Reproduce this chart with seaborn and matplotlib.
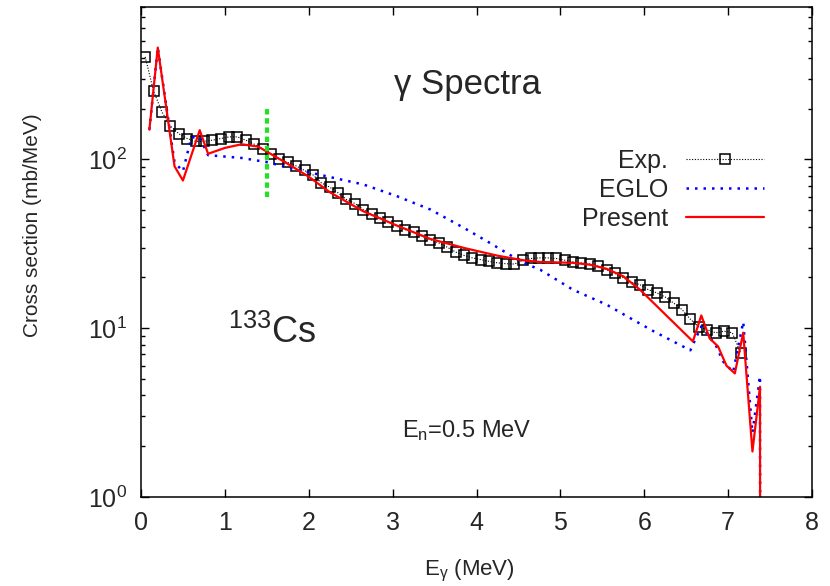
import seaborn as sns
import matplotlib.pyplot as plt
from matplotlib.ticker import LogLocator, NullLocator, NullFormatter

# measured spectrum (0.1 MeV bins)
exp_e = [0.05, 0.15, 0.25, 0.35, 0.45, 0.55, 0.65, 0.75, 0.85, 0.95,
         1.05, 1.15, 1.25, 1.35, 1.45, 1.55, 1.65, 1.75, 1.85, 1.95,
         2.05, 2.15, 2.25, 2.35, 2.45, 2.55, 2.65, 2.75, 2.85, 2.95,
         3.05, 3.15, 3.25, 3.35, 3.45, 3.55, 3.65, 3.75, 3.85, 3.95,
         4.05, 4.15, 4.25, 4.35, 4.45, 4.55, 4.65, 4.75, 4.85, 4.95,
         5.05, 5.15, 5.25, 5.35, 5.45, 5.55, 5.65, 5.75, 5.85, 5.95,
         6.05, 6.15, 6.25, 6.35, 6.45, 6.55, 6.65, 6.75, 6.85, 6.95,
         7.05, 7.15]
exp_y = [405, 254, 191, 158, 142, 133, 128, 128, 130, 133,
         136, 136, 130, 123, 115, 108, 101, 96, 91.5, 86,
         81, 72.7, 68.5, 63.4, 57.9, 54.8, 50.5, 47.2, 45.1, 42.5,
         40.2, 38.4, 37.0, 35.1, 33.5, 32.0, 30.2, 28.3, 27.0, 26.1,
         25.5, 24.9, 24.4, 24.1, 24.0, 25.2, 25.9, 26.1, 26.1, 25.9,
         25.3, 24.7, 24.4, 24.0, 23.3, 22.2, 21.1, 19.9, 18.7, 18.1,
         16.9, 16.2, 15.3, 14.1, 12.9, 11.3, 10.2, 9.8, 9.4, 9.6,
         9.4, 7.1]

# EGLO strength function
eglo_e = [0.1, 0.2, 0.4, 0.5, 0.6, 0.7, 0.8, 1.2, 1.5, 1.86, 2.25, 2.65,
          3.05, 3.45, 3.85, 4.16, 4.36, 4.56, 4.76, 5.15, 5.55, 5.87,
          6.11, 6.55, 6.68, 6.76, 6.86, 6.94, 7.06, 7.18, 7.29, 7.38, 7.385]
eglo_y = [150, 460, 96, 85, 135, 135, 106, 102, 96.4, 87.2, 78.7, 71.1,
          60.6, 50.5, 39.3, 32.0, 27.9, 24.4, 22.2, 16.9, 13.8, 11.2,
          9.6, 7.4, 10.25, 9.15, 7.8, 6.35, 5.5, 10.9, 2.4, 5.2, 0.01]

# present calculation
pres_e = [0.1, 0.2, 0.4, 0.5, 0.7, 0.8, 1.0, 1.2, 1.4, 1.6, 1.8, 2.0,
          2.25, 2.65, 3.05, 3.45, 3.85, 4.25, 4.55, 4.75, 5.15, 5.35,
          5.55, 5.75, 5.95, 6.58, 6.68, 6.78, 6.88, 6.98, 7.08, 7.18,
          7.29, 7.38, 7.385]
pres_y = [150, 460, 91, 75, 149, 108, 117, 123, 119, 104, 91, 79,
          64, 49.3, 40.6, 33.8, 29.9, 26.9, 25.3, 24.7, 24.4, 23.8,
          22.5, 20.3, 16.9, 8.35, 11.9, 8.7, 7.8, 6.0, 5.4, 9.4,
          1.86, 4.5, 0.01]

# green marker line at 1.5 MeV
mark_e = 1.5
mark_lo, mark_hi = 60, 200

sns.set_style("ticks")
plt.rcParams['font.family'] = ['Liberation Sans', 'DejaVu Sans']
plt.rcParams['mathtext.fontset'] = 'custom'
plt.rcParams['mathtext.rm'] = 'Liberation Sans'
plt.rcParams['mathtext.it'] = 'Liberation Sans:italic'

fig = plt.figure(figsize=(8.3, 5.86), dpi=100)
ax = fig.add_axes([141 / 830, 1 - 497 / 586, 671 / 830, 490 / 586])

sns.lineplot(x=exp_e, y=exp_y, ax=ax, color='black', lw=0.8, linestyle=(0, (1, 1.5)),
             marker='s', markersize=7, markerfacecolor='none', markeredgecolor='black',
             markeredgewidth=1.1, sort=False, estimator=None, label='Exp.')
sns.lineplot(x=eglo_e, y=eglo_y, ax=ax, color='#0000ff', lw=1.8, linestyle=(0, (1, 2.4)),
             sort=False, estimator=None, label='EGLO')
sns.lineplot(x=pres_e, y=pres_y, ax=ax, color='#ff0000', lw=1.6,
             sort=False, estimator=None, label='Present')
ax.vlines(mark_e, mark_lo, mark_hi, color='#22e022', lw=3, linestyles=(0, (1.3, 0.9)))

ax.set_yscale('log')
ax.set_xlim(0, 8)
ax.set_ylim(1, 800)
ax.set_xticks(range(0, 9))
ax.xaxis.set_minor_locator(NullLocator())
ax.yaxis.set_major_locator(LogLocator(base=10))
ax.yaxis.set_minor_locator(LogLocator(base=10, subs=range(2, 10), numticks=20))
ax.yaxis.set_minor_formatter(NullFormatter())
ax.tick_params(which='both', direction='in', top=True, right=True, color='black')
ax.tick_params(which='major', length=6, width=1, labelsize=18)
ax.tick_params(which='minor', length=3, width=1)
ax.tick_params(axis='x', pad=10)
ax.tick_params(axis='y', pad=10)
for s in ax.spines.values():
    s.set_linewidth(1.1)
    s.set_color('black')

ax.set_xlabel('E$_\\mathregular{γ}$ (MeV)', fontsize=16)
ax.set_ylabel('Cross section (mb/MeV)', fontsize=15)
ax.xaxis.set_label_coords(0.49, -0.125)
ax.xaxis.label.set_va('top')
ax.yaxis.set_label_coords(-0.148, 0.555)

ax.text(0.486, 0.822, 'γ Spectra', transform=ax.transAxes, fontsize=25, ha='center', va='baseline')
ax.text(0.195, 0.314, '$^{133}$Cs', transform=ax.transAxes, fontsize=26, ha='center', va='baseline')
ax.text(0.486, 0.122, 'E$_\\mathregular{n}$=0.5 MeV', transform=ax.transAxes, fontsize=17,
        ha='center', va='baseline')

ax.legend(loc='upper right', bbox_to_anchor=(0.928, 0.71), frameon=False, fontsize=18,
          markerfirst=False, handlelength=3.1, handletextpad=0.72, labelspacing=0.2,
          borderpad=0, borderaxespad=0, numpoints=1)

fig.savefig('out.png', dpi=100)
